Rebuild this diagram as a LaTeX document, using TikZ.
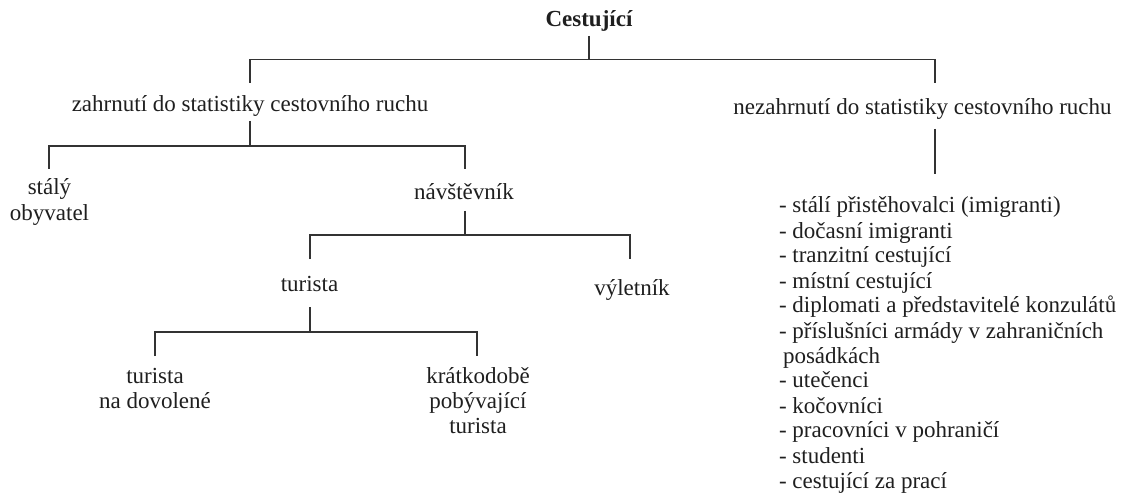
\documentclass[tikz,border=0pt]{standalone}
\usepackage{fontspec}
\setmainfont{Liberation Serif}
\begin{document}
\begin{tikzpicture}[x=1pt,y=-1pt,
  every node/.style={inner sep=0pt, outer sep=0pt, font=\fontsize{23}{25}\selectfont, text=black!88},
  lbl/.style={anchor=base},
  conn/.style={draw=black!80, line width=1.2pt}]
\useasboundingbox (0,0) rectangle (1132,497);
\fill[white] (0,0) rectangle (1132,497);

% text nodes
\node[lbl, font=\fontsize{23}{25}\selectfont\bfseries] (root) at (589,27) {Cestující};
\node[lbl] (zahr) at (250,112) {zahrnutí do statistiky cestovního ruchu};
\node[lbl] (nezahr) at (922.5,115) {nezahrnutí do statistiky cestovního ruchu};
\node[lbl] (staly) at (49.5,195) {\begin{tabular}[t]{@{}c@{}}stálý\\obyvatel\end{tabular}};
\node[lbl] (navst) at (464,200) {návštěvník};
\node[lbl] (tur) at (309.5,291) {turista};
\node[lbl] (vylet) at (632,295) {výletník};
\node[lbl] (dovol) at (155,383) {\begin{tabular}[t]{@{}c@{}}turista\\na dovolené\end{tabular}};
\node[lbl] (kratko) at (478,383) {\begin{tabular}[t]{@{}c@{}}krátkodobě\\pobývající\\turista\end{tabular}};
\node[anchor=base west] (list) at (779,213) {\begin{tabular}[t]{@{}l@{}}
- stálí přistěhovalci (imigranti)\\
- dočasní imigranti\\
- tranzitní cestující\\
- místní cestující\\
- diplomati a představitelé konzulátů\\
- příslušníci armády v zahraničních\\
\hspace*{4pt}posádkách\\
- utečenci\\
- kočovníci\\
- pracovníci v pohraničí\\
- studenti\\
- cestující za prací\end{tabular}};

% connector end points
\coordinate (rootS) at ([yshift=-9pt]root.base);
\coordinate (jTop) at (589,59.5);
\coordinate (zahrN) at ([yshift=29pt]zahr.base);
\coordinate (zahrS) at ([yshift=-9pt]zahr.base);
\coordinate (nezN) at ([xshift=12.5pt,yshift=32pt]nezahr.base);
\coordinate (nezS) at ([xshift=12.5pt,yshift=-14pt]nezahr.base);
\coordinate (listN) at ([yshift=-45pt]nezS);
\coordinate (jZ) at (250,146);
\coordinate (stalyN) at (49,169);
\coordinate (navstN) at (465,169);
\coordinate (navstS) at (465,211);
\coordinate (jN) at (465,235);
\coordinate (turN) at (310,259);
\coordinate (vyletN) at (630,259);
\coordinate (turS) at (310,307);
\coordinate (jT) at (310,332);
\coordinate (dovolN) at (155,356);
\coordinate (kratkoN) at (477,356);

% connectors
\draw[conn] (rootS) -- (jTop);
\draw[conn] (zahrN) |- (jTop) -| (nezN);
\draw[conn] (zahrS) -- (jZ);
\draw[conn] (stalyN) |- (jZ) -| (navstN);
\draw[conn] (navstS) -- (jN);
\draw[conn] (turN) |- (jN) -| (vyletN);
\draw[conn] (turS) -- (jT);
\draw[conn] (dovolN) |- (jT) -| (kratkoN);
\draw[conn] (nezS) -- (listN);
\end{tikzpicture}
\end{document}
